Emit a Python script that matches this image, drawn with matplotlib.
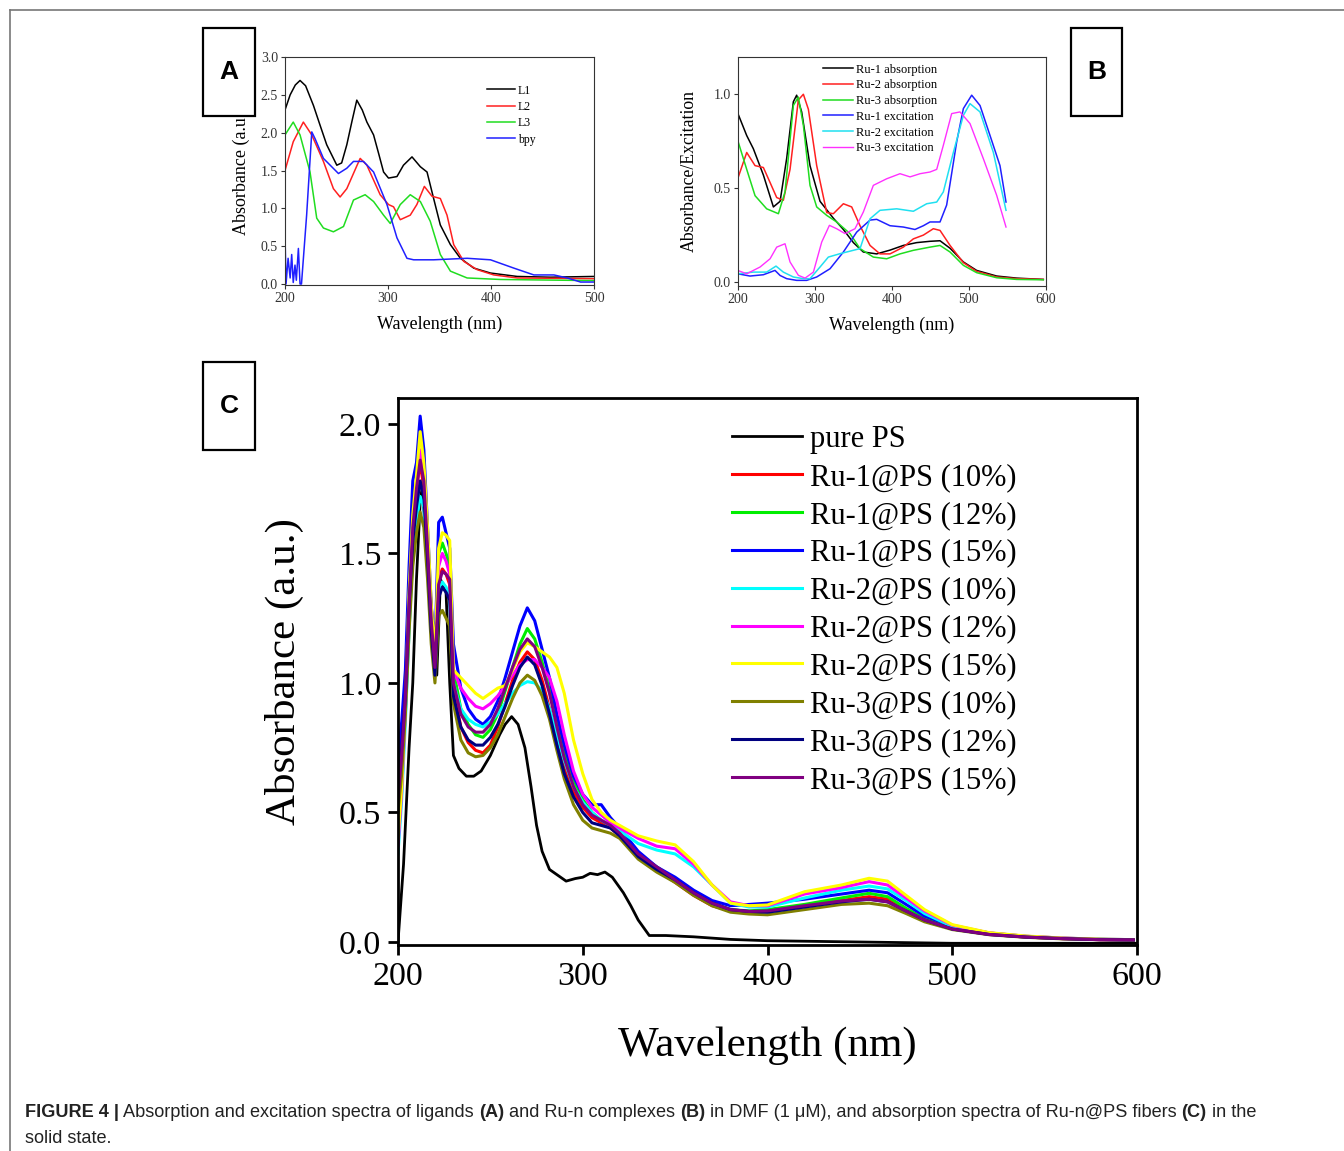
import numpy as np
import matplotlib.pyplot as plt
from matplotlib.patches import Rectangle
from matplotlib.lines import Line2D

W, H = 1344, 1151

# ---------------- panel A : ligands ----------------
a_l1_wl = [200, 205, 210, 214.6, 220, 227.6, 234, 240.5, 250.3, 255, 260, 265, 269.7, 275, 279.5, 286, 291, 295.7, 300.5, 308.7,
           315, 323.3, 331.4, 337.9, 344.3, 350.8, 360.6, 370.3, 383.3, 399.5, 425.4, 457.9, 500]
a_l1 = [2.3, 2.5, 2.63, 2.69, 2.62, 2.36, 2.1, 1.84, 1.57, 1.6, 1.84, 2.15, 2.43, 2.3, 2.14, 1.97, 1.72, 1.48, 1.4, 1.42,
        1.57, 1.68, 1.55, 1.48, 1.13, 0.78, 0.52, 0.34, 0.21, 0.145, 0.1, 0.09, 0.1]
a_l2_wl = [200, 208, 217.8, 226, 237.3, 247, 253.5, 260, 270, 273, 279.5, 292.4, 300.5, 305.4, 311.9, 321.6, 328, 335.3, 342.7,
           350.8, 357.3, 363.8, 373.5, 386.5, 402.7, 425.4, 500]
a_l2 = [1.5, 1.88, 2.14, 1.97, 1.62, 1.26, 1.15, 1.26, 1.57, 1.66, 1.57, 1.18, 1.05, 1.02, 0.85, 0.91, 1.05, 1.29, 1.16,
        1.13, 0.91, 0.52, 0.3, 0.19, 0.12, 0.08, 0.07]
a_l3_wl = [200, 208, 214.6, 224.3, 230.8, 237.3, 247, 256.8, 266.5, 277.8, 286, 295.7, 302.2, 311.9, 321.6, 331.4, 341,
           350.8, 360.6, 376.8, 409.2, 500]
a_l3 = [1.97, 2.14, 1.97, 1.48, 0.87, 0.74, 0.69, 0.76, 1.11, 1.18, 1.09, 0.91, 0.8, 1.05, 1.18, 1.09, 0.83,
        0.39, 0.17, 0.08, 0.06, 0.045]
a_bpy_wl = [200, 201, 203, 205, 206.5, 208, 209.7, 211, 213, 214.6, 216, 221, 226, 229.2, 237.3, 251.9, 260, 266.5, 276.2,
            286, 299, 308.7, 318.4, 324.9, 344.3, 376.8, 399.5, 422.2, 441.6, 461.1, 474, 487, 500]
a_bpy = [0.65, 0.0, 0.34, 0.08, 0.39, 0.02, 0.25, 0.05, 0.47, 0.0, 0.0, 0.91, 2.01, 1.92, 1.66, 1.46, 1.53, 1.62, 1.62,
         1.48, 1.05, 0.61, 0.34, 0.32, 0.32, 0.34, 0.32, 0.21, 0.12, 0.12, 0.08, 0.026, 0.026]

# ---------------- panel B : complexes ----------------
b_abs1_wl = [200, 211.7, 220.3, 233.3, 246.3, 255, 263.6, 272.2, 276.5, 283, 293.8, 306.8, 324.1, 337.1, 350.1, 363, 380.3,
             397.6, 414.9, 432.2, 449.5, 462.5, 475.5, 492.8, 510, 536, 562, 596.5]
b_abs1 = [0.9, 0.78, 0.71, 0.57, 0.4, 0.43, 0.66, 0.96, 0.995, 0.906, 0.62, 0.43, 0.34, 0.28, 0.21, 0.16, 0.15,
          0.17, 0.195, 0.21, 0.217, 0.22, 0.18, 0.107, 0.062, 0.032, 0.021, 0.014]
b_abs2_wl = [200, 211.7, 222.5, 233.3, 242, 250.6, 259.2, 267.9, 278.7, 285.2, 291.7, 302.5, 315.5, 324.1, 337.1, 347.9,
             358.7, 371.7, 384.6, 397.6, 414.9, 427.9, 440.9, 453.8, 462.5, 475.5, 492.8, 510, 536, 562, 596.5]
b_abs2 = [0.55, 0.69, 0.62, 0.61, 0.53, 0.45, 0.435, 0.6, 0.97, 1.0, 0.92, 0.62, 0.37, 0.364, 0.417, 0.4,
          0.3, 0.195, 0.15, 0.15, 0.186, 0.23, 0.25, 0.284, 0.275, 0.195, 0.103, 0.057, 0.027, 0.018, 0.014]
b_abs3_wl = [200, 211.7, 222.5, 237.6, 252.8, 261.4, 272.2, 278.7, 285.2, 293.8, 302.5, 315.5, 328.4, 345.7, 358.7, 376,
             393.3, 410.6, 427.9, 449.5, 462.5, 475.5, 492.8, 510, 536, 562, 596.5]
b_abs3 = [0.755, 0.6, 0.46, 0.39, 0.364, 0.48, 0.94, 0.985, 0.835, 0.515, 0.4, 0.355, 0.32, 0.258, 0.178, 0.133,
          0.124, 0.15, 0.169, 0.186, 0.195, 0.16, 0.089, 0.05, 0.023, 0.014, 0.012]
b_exc1_wl = [200, 216, 233.3, 248.4, 255, 263.6, 276.5, 289.5, 302.5, 319.8, 337.1, 354.4, 371.7, 380.3, 397.6, 414.9,
             430, 440.9, 449.5, 462.5, 471.1, 484.1, 492.8, 503.6, 514.4, 527.4, 540.3, 548.1]
b_exc1 = [0.044, 0.032, 0.039, 0.062, 0.035, 0.018, 0.009, 0.009, 0.027, 0.071, 0.16, 0.266, 0.33, 0.334, 0.3, 0.293,
          0.28, 0.3, 0.32, 0.32, 0.41, 0.746, 0.924, 0.995, 0.94, 0.78, 0.62, 0.426]
b_exc2_wl = [200, 220.3, 237.6, 249.7, 259.2, 272.2, 285.2, 293.8, 306.8, 317.6, 332.7, 350, 358.7, 371.7, 384.6, 406.3,
             427.9, 445.2, 458.2, 466.8, 479.8, 492.8, 501.4, 514.4, 531.7, 548.1]
b_exc2 = [0.044, 0.053, 0.053, 0.085, 0.053, 0.027, 0.018, 0.018, 0.08, 0.133, 0.151, 0.169, 0.178, 0.337, 0.382, 0.39,
          0.377, 0.417, 0.426, 0.48, 0.69, 0.888, 0.95, 0.906, 0.69, 0.382]
b_exc3_wl = [200, 211.7, 229, 242, 250.6, 261.4, 267.9, 278.7, 287.4, 298.2, 309, 319, 328.4, 339.2, 352.2, 363, 376,
             393.3, 410.6, 423.6, 436.6, 449.5, 458.2, 466.8, 477.6, 488.4, 501.4, 518.7, 536, 548.1]
b_exc3 = [0.062, 0.044, 0.08, 0.124, 0.186, 0.204, 0.107, 0.036, 0.021, 0.053, 0.213, 0.302, 0.284, 0.258, 0.284, 0.373,
          0.515, 0.55, 0.577, 0.56, 0.577, 0.586, 0.6, 0.728, 0.897, 0.906, 0.844, 0.657, 0.462, 0.293]

# ---------------- panel C : Ru-n@PS fibers ----------------
c_ps_wl = [200, 203, 206, 208, 210, 212, 213, 216, 219, 221, 223, 226, 228, 230, 233, 237, 241, 245, 250, 255, 258, 261.5,
           265, 268.7, 272, 275, 278, 282, 286, 291, 296, 300, 304, 308, 312, 316, 322, 326, 330, 336, 345, 360, 370, 380,
           400, 450, 500, 600]
c_ps = [0.0, 0.3, 0.75, 1.0, 1.4, 1.7, 1.75, 1.5, 1.2, 1.03, 1.4, 1.35, 1.0, 0.72, 0.67, 0.64, 0.64, 0.66, 0.72, 0.8, 0.84,
        0.87, 0.84, 0.75, 0.6, 0.45, 0.35, 0.28, 0.26, 0.235, 0.245, 0.25, 0.265, 0.26, 0.27, 0.25, 0.19, 0.14, 0.085, 0.025,
        0.025, 0.02, 0.015, 0.01, 0.005, 0.0, -0.005, -0.005]

c_wl = [200, 202, 204, 206, 208, 210, 212, 214, 216, 218,
        220, 222, 224, 226, 228, 230, 234, 238, 242, 246,
        250, 254, 258, 262, 266, 270, 274, 278, 282, 286,
        290, 295, 300, 305, 310, 315, 320, 330, 340, 350,
        360, 370, 380, 390, 400, 420, 440, 455, 465, 475,
        485, 500, 520, 540, 560, 580, 598]
c_ru1_10 = [0.6, 0.75, 0.95, 1.3, 1.6, 1.75, 1.85, 1.75, 1.5, 1.22,
            1.05, 1.4, 1.44, 1.42, 1.38, 0.98, 0.83, 0.77, 0.74, 0.73,
            0.76, 0.83, 0.92, 1.01, 1.08, 1.12, 1.09, 1.01, 0.9, 0.78,
            0.67, 0.58, 0.52, 0.48, 0.46, 0.44, 0.41, 0.33, 0.28, 0.23,
            0.18, 0.14, 0.12, 0.115, 0.12, 0.14, 0.16, 0.175, 0.165, 0.125,
            0.085, 0.052, 0.03, 0.019, 0.013, 0.009, 0.008]
c_ru1_12 = [0.66, 0.8, 1.0, 1.35, 1.65, 1.78, 1.88, 1.8, 1.55, 1.25,
            1.08, 1.5, 1.54, 1.5, 1.45, 1.05, 0.9, 0.84, 0.8, 0.79,
            0.82, 0.88, 0.97, 1.06, 1.15, 1.21, 1.17, 1.08, 0.97, 0.85,
            0.73, 0.62, 0.55, 0.5, 0.47, 0.45, 0.42, 0.34, 0.29, 0.24,
            0.19, 0.15, 0.125, 0.12, 0.125, 0.145, 0.17, 0.188, 0.175, 0.13,
            0.09, 0.055, 0.032, 0.02, 0.014, 0.01, 0.008]
c_ru1_15 = [0.72, 0.85, 1.05, 1.45, 1.78, 1.85, 2.03, 1.9, 1.6, 1.3,
            1.12, 1.62, 1.64, 1.58, 1.52, 1.15, 0.98, 0.9, 0.86, 0.84,
            0.87, 0.93, 1.02, 1.12, 1.22, 1.29, 1.24, 1.13, 1.02, 0.88,
            0.76, 0.64, 0.57, 0.53, 0.53, 0.48, 0.44, 0.35, 0.29, 0.25,
            0.2, 0.16, 0.14, 0.145, 0.15, 0.165, 0.185, 0.2, 0.19, 0.145,
            0.1, 0.062, 0.035, 0.022, 0.015, 0.011, 0.009]
c_ru2_10 = [0.34, 0.55, 0.85, 1.2, 1.5, 1.62, 1.72, 1.68, 1.45, 1.2,
            1.04, 1.36, 1.39, 1.37, 1.33, 1.0, 0.9, 0.86, 0.84, 0.83,
            0.85, 0.88, 0.92, 0.96, 0.99, 1.005, 1.0, 0.97, 0.9, 0.8,
            0.7, 0.6, 0.54, 0.5, 0.47, 0.45, 0.43, 0.38, 0.355, 0.34,
            0.29, 0.22, 0.15, 0.135, 0.135, 0.17, 0.2, 0.216, 0.205, 0.16,
            0.11, 0.06, 0.033, 0.021, 0.014, 0.01, 0.008]
c_ru2_12 = [0.37, 0.58, 0.9, 1.3, 1.6, 1.75, 1.9, 1.82, 1.55, 1.25,
            1.07, 1.45, 1.5, 1.47, 1.42, 1.05, 0.98, 0.94, 0.91, 0.9,
            0.92, 0.95, 0.99, 1.03, 1.07, 1.09, 1.09, 1.06, 1.02, 0.93,
            0.8, 0.66, 0.57, 0.52, 0.49, 0.46, 0.44, 0.4, 0.37, 0.36,
            0.3, 0.22, 0.155, 0.14, 0.14, 0.185, 0.21, 0.233, 0.22, 0.17,
            0.12, 0.065, 0.035, 0.022, 0.015, 0.01, 0.008]
c_ru2_15 = [0.4, 0.6, 0.92, 1.35, 1.65, 1.8, 1.97, 1.85, 1.6, 1.3,
            1.1, 1.52, 1.58, 1.57, 1.55, 1.05, 1.02, 0.99, 0.96, 0.94,
            0.96, 0.98, 0.99, 1.05, 1.12, 1.155, 1.14, 1.12, 1.1, 1.06,
            0.96, 0.78, 0.65, 0.55, 0.5, 0.47, 0.45, 0.41, 0.39, 0.375,
            0.31, 0.22, 0.15, 0.14, 0.143, 0.194, 0.22, 0.246, 0.235, 0.18,
            0.125, 0.067, 0.036, 0.023, 0.015, 0.011, 0.009]
c_ru3_10 = [0.5, 0.65, 0.88, 1.2, 1.45, 1.58, 1.66, 1.6, 1.4, 1.15,
            1.0, 1.26, 1.28, 1.25, 1.22, 0.92, 0.78, 0.73, 0.715, 0.72,
            0.75, 0.8, 0.87, 0.94, 1.0, 1.03, 1.01, 0.95, 0.86, 0.74,
            0.63, 0.53, 0.47, 0.44, 0.43, 0.42, 0.4, 0.32, 0.27, 0.23,
            0.18, 0.14, 0.115, 0.108, 0.105, 0.125, 0.145, 0.15, 0.14, 0.11,
            0.078, 0.048, 0.028, 0.018, 0.012, 0.009, 0.007]
c_ru3_12 = [0.6, 0.75, 0.95, 1.3, 1.55, 1.68, 1.78, 1.72, 1.48, 1.2,
            1.03, 1.33, 1.37, 1.35, 1.32, 0.95, 0.83, 0.78, 0.76, 0.76,
            0.79, 0.84, 0.91, 0.99, 1.06, 1.1, 1.07, 0.99, 0.88, 0.76,
            0.65, 0.56, 0.5, 0.46, 0.45, 0.44, 0.41, 0.33, 0.28, 0.24,
            0.19, 0.15, 0.125, 0.118, 0.115, 0.135, 0.155, 0.165, 0.155, 0.12,
            0.085, 0.05, 0.029, 0.019, 0.013, 0.009, 0.008]
c_ru3_15 = [0.55, 0.72, 0.95, 1.3, 1.6, 1.75, 1.86, 1.78, 1.52, 1.24,
            1.06, 1.38, 1.43, 1.42, 1.4, 1.0, 0.88, 0.83, 0.81, 0.81,
            0.84, 0.9, 0.98, 1.06, 1.13, 1.17, 1.14, 1.06, 0.96, 0.83,
            0.71, 0.6, 0.53, 0.49, 0.47, 0.45, 0.42, 0.34, 0.29, 0.24,
            0.19, 0.15, 0.125, 0.118, 0.12, 0.14, 0.158, 0.165, 0.155, 0.12,
            0.085, 0.05, 0.029, 0.019, 0.013, 0.009, 0.008]

c_labels = ["Ru-1@PS (10%)", "Ru-1@PS (12%)", "Ru-1@PS (15%)",
            "Ru-2@PS (10%)", "Ru-2@PS (12%)", "Ru-2@PS (15%)",
            "Ru-3@PS (10%)", "Ru-3@PS (12%)", "Ru-3@PS (15%)"]
c_series = [c_ru1_10, c_ru1_12, c_ru1_15, c_ru2_10, c_ru2_12, c_ru2_15, c_ru3_10, c_ru3_12, c_ru3_15]
c_colors = ["#ff0000", "#00ee00", "#0000ff", "#00ffff", "#ff00ff", "#ffff00", "#808000", "#000080", "#800080"]

caption_line1 = [("FIGURE 4 |", "bold"), (" Absorption and excitation spectra of ligands ", "normal"), ("(A)", "bold"),
                 (" and Ru-n complexes ", "normal"), ("(B)", "bold"),
                 (" in DMF (1 μM), and absorption spectra of Ru-n@PS fibers ", "normal"), ("(C)", "bold"),
                 (" in the", "normal")]
caption_line2 = "solid state."


def fig_rect(left, top, right, bottom):
    return [left / W, 1 - bottom / H, (right - left) / W, (bottom - top) / H]


def style_small(ax):
    for s in ax.spines.values():
        s.set_linewidth(0.8)
        s.set_color("#333333")
    ax.tick_params(direction="out", length=3, width=0.8, labelsize=10, pad=2, colors="#333333")


def panel_box(x0, y0, x1, y1, letter):
    fig.patches.append(Rectangle((x0 / W, 1 - y1 / H), (x1 - x0) / W, (y1 - y0) / H,
                                 transform=fig.transFigure, facecolor="white", edgecolor="black",
                                 linewidth=1.6, zorder=5))
    fig.text((x0 + x1) / 2 / W, 1 - (y0 + y1) / 2 / H, letter, ha="center", va="center",
             fontsize=19, fontweight="bold", family="Liberation Sans", zorder=6)


plt.rcParams["font.family"] = "Liberation Serif"

fig = plt.figure(figsize=(W / 100, H / 100), dpi=100)

# frame of the figure page
fig.add_artist(Line2D([10 / W, 1], [1 - 10 / H, 1 - 10 / H], transform=fig.transFigure, color="#777777", lw=1.2))
fig.add_artist(Line2D([10 / W, 10 / W], [1 - 10 / H, 0], transform=fig.transFigure, color="#777777", lw=1.2))

# ---- A ----
axA = fig.add_axes(fig_rect(285, 57, 594, 285))
axA.plot(a_l1_wl, a_l1, color="black", lw=1.1, label="L1")
axA.plot(a_l2_wl, a_l2, color="#ff2020", lw=1.1, label="L2")
axA.plot(a_l3_wl, a_l3, color="#20dd20", lw=1.1, label="L3")
axA.plot(a_bpy_wl, a_bpy, color="#2020ff", lw=1.1, label="bpy")
axA.set_xlim(200, 500)
axA.set_ylim(-0.013, 3.0)
axA.set_xticks([200, 300, 400, 500])
axA.set_yticks([0.0, 0.5, 1.0, 1.5, 2.0, 2.5, 3.0])
axA.yaxis.set_major_formatter(plt.FormatStrFormatter("%.1f"))
style_small(axA)
axA.set_xlabel("Wavelength (nm)", fontsize=13, labelpad=8)
axA.set_ylabel("Absorbance (a.u.)", fontsize=13, labelpad=8)
axA.legend(loc="upper left", bbox_to_anchor=(486.7 / W, 1 - 84.5 / H), bbox_transform=fig.transFigure,
           frameon=False, fontsize=8.5, handlelength=2.4, handletextpad=0.25, labelspacing=0.37,
           borderpad=0, borderaxespad=0)

# ---- B ----
axB = fig.add_axes(fig_rect(737.7, 56.7, 1046, 286))
axB.plot(b_abs1_wl, b_abs1, color="black", lw=1.1, label="Ru-1 absorption")
axB.plot(b_abs2_wl, b_abs2, color="#ff2020", lw=1.1, label="Ru-2 absorption")
axB.plot(b_abs3_wl, b_abs3, color="#20dd20", lw=1.1, label="Ru-3 absorption")
axB.plot(b_exc1_wl, b_exc1, color="#2020ff", lw=1.1, label="Ru-1 excitation")
axB.plot(b_exc2_wl, b_exc2, color="#20e0f0", lw=1.1, label="Ru-2 excitation")
axB.plot(b_exc3_wl, b_exc3, color="#ff30ff", lw=1.0, label="Ru-3 excitation")
axB.set_xlim(200, 600)
axB.set_ylim(-0.021, 1.2)
axB.set_xticks([200, 300, 400, 500, 600])
axB.set_yticks([0.0, 0.5, 1.0])
axB.yaxis.set_major_formatter(plt.FormatStrFormatter("%.1f"))
style_small(axB)
axB.set_xlabel("Wavelength (nm)", fontsize=13, labelpad=8)
axB.set_ylabel("Absorbance/Excitation", fontsize=12.8, labelpad=11)
axB.legend(loc="upper left", bbox_to_anchor=(823 / W, 1 - 63.6 / H), bbox_transform=fig.transFigure,
           frameon=False, fontsize=9, handlelength=2.4, handletextpad=0.24, labelspacing=0.3,
           borderpad=0, borderaxespad=0)

# ---- C ----
axC = fig.add_axes(fig_rect(398, 398, 1137, 945))
axC.plot(c_ps_wl, c_ps, color="black", lw=2.0, label="pure PS")
for vals, col, lab in zip(c_series, c_colors, c_labels):
    axC.plot(c_wl, vals, color=col, lw=2.2, label=lab)
axC.set_xlim(200, 600)
axC.set_ylim(-0.0116, 2.1)
axC.set_xticks([200, 300, 400, 500, 600])
axC.set_yticks([0.0, 0.5, 1.0, 1.5, 2.0])
axC.yaxis.set_major_formatter(plt.FormatStrFormatter("%.1f"))
for s in axC.spines.values():
    s.set_linewidth(2.0)
axC.tick_params(direction="out", length=7, width=2.0, labelsize=24.5, pad=5)
axC.set_xlabel("Wavelength (nm)", fontsize=31, labelpad=25)
axC.set_ylabel("Absorbance (a.u.)", fontsize=31, labelpad=25)
axC.legend(loc="upper left", bbox_to_anchor=(732 / W, 1 - 425 / H), bbox_transform=fig.transFigure,
           frameon=False, fontsize=22, handlelength=2.29, handletextpad=0.26, labelspacing=0.29,
           borderpad=0, borderaxespad=0)

# panel letters
panel_box(203.3, 27.7, 255, 115.7, "A")
panel_box(1071, 27.7, 1122, 115.7, "B")
panel_box(203.3, 362, 255, 450, "C")

# caption, bold and plain pieces chained one after another
axCap = fig.add_axes([0, 0, 1, 1])
axCap.axis("off")
axCap.set_zorder(-1)
prev = axCap.text(25 / W, 1 - 1117 / H, caption_line1[0][0], fontweight=caption_line1[0][1], fontsize=13.1,
                  family="Liberation Sans", color="#222222", va="baseline", transform=axCap.transAxes)
for txt, wgt in caption_line1[1:]:
    prev = axCap.annotate(txt, xy=(1, 0), xycoords=prev, va="bottom", ha="left", fontweight=wgt,
                          fontsize=13.1, family="Liberation Sans", color="#222222")
axCap.text(25 / W, 1 - 1143 / H, caption_line2, fontsize=13.1, family="Liberation Sans", color="#222222",
           va="baseline", transform=axCap.transAxes)

fig.savefig("out.png", dpi=100)
